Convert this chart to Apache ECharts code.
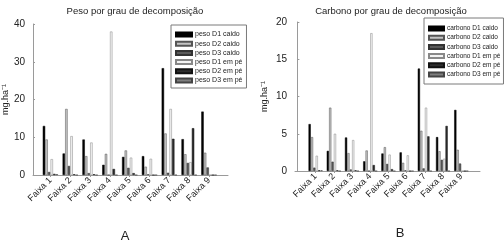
<!DOCTYPE html>
<html>
<head>
<meta charset="utf-8">
<script src="https://cdn.jsdelivr.net/npm/echarts@6/dist/echarts.min.js"></script>
<style>
  html, body { margin: 0; padding: 0; background: #fff; }
  #main { width: 504px; height: 240px; }
</style>
</head>
<body>
<div id="main"></div>
<script>
var categories = ['Faixa 1', 'Faixa 2', 'Faixa 3', 'Faixa 4', 'Faixa 5', 'Faixa 6', 'Faixa 7', 'Faixa 8', 'Faixa 9'];

// peso (A)
var pesoD1Caido = [13.0, 5.7, 9.4, 2.7, 4.8, 5.0, 28.3, 9.5, 16.8];
var pesoD2Caido = [9.4, 17.5, 5.0, 5.6, 6.5, 2.2, 11.0, 5.5, 5.9];
var pesoD3Caido = [0.8, 2.4, 0.5, 0, 1.9, 0.2, 0.6, 3.2, 2.0];
var pesoD1EmPe = [4.2, 10.3, 8.6, 38.0, 4.6, 4.3, 17.5, 3.4, 0];
var pesoD2EmPe = [0.3, 0.2, 0.2, 1.6, 0.5, 0, 9.6, 12.4, 0];
var pesoD3EmPe = [0.2, 0, 0, 0, 0, 0, 0, 0, 0];

// carbono (B)
var carbD1Caido = [6.3, 2.7, 4.5, 1.3, 2.35, 2.5, 13.75, 4.55, 8.2];
var carbD2Caido = [4.55, 8.5, 2.4, 2.75, 3.2, 1.1, 5.4, 2.65, 2.85];
var carbD3Caido = [0.45, 1.25, 0.2, 0, 0.95, 0.1, 0.35, 1.5, 1.0];
var carbD1EmPe = [2.05, 5.0, 4.15, 18.5, 2.2, 2.1, 8.5, 1.65, 0];
var carbD2EmPe = [0.1, 0.1, 0.1, 0.8, 0.25, 0, 4.65, 6.05, 0];
var carbD3EmPe = [0.1, 0, 0, 0, 0, 0, 0, 0, 0];

var pesoNames = ['peso D1 caido', 'peso D2 caido', 'peso D3 caido', 'peso D1 em pé', 'peso D2 em pé', 'peso D3 em pé'];
var carbNames = ['carbono D1 caido', 'carbono D2 caido', 'carbono D3 caido', 'carbono D1 em pé', 'carbono D2 em pé', 'carbono D3 em pé'];

var fills = ['#000000', '#c4c4c4', '#5a5a5a', '#f2f2f2', '#2e2e2e', '#7e7e7e'];
var borders = ['#000000', '#555555', '#333333', '#888888', '#111111', '#444444'];
var ticksX = [1, 2, 3, 4, 5, 6, 7, 8, 9];
var font = 'Liberation Sans, Arial, sans-serif';

function toPairs(arr) {
    return arr.map(function (v, i) { return [i + 1, v]; });
}

function makeSeries(names, arrays, axisIdx, bw) {
    return arrays.map(function (arr, k) {
        return {
            name: names[k],
            type: 'bar',
            xAxisIndex: axisIdx,
            yAxisIndex: axisIdx,
            barWidth: bw,
            barGap: '8%',
            itemStyle: { color: fills[k], borderColor: borders[k], borderWidth: 0.5 },
            data: toPairs(arr)
        };
    });
}

function xAxisCfg(grid, min, max) {
    return {
        type: 'value', gridIndex: grid, min: min, max: max,
        splitLine: { show: false },
        axisLine: { show: true, lineStyle: { color: '#9a9a9a', width: 1 } },
        axisTick: { show: true, length: 2, customValues: ticksX, lineStyle: { color: '#9a9a9a' } },
        axisLabel: {
            customValues: ticksX, rotate: 45, margin: 4, fontSize: 9, color: '#222', fontFamily: font,
            formatter: function (v) { return categories[Math.round(v) - 1] || ''; }
        }
    };
}

function yAxisCfg(grid, max, interval, gap) {
    return {
        type: 'value', gridIndex: grid, min: 0, max: max, interval: interval,
        name: 'mg.ha⁻¹', nameLocation: 'middle', nameRotate: 90, nameGap: gap,
        nameTextStyle: { fontSize: 9, color: '#222', fontFamily: font },
        splitLine: { show: false },
        axisLine: { show: true, lineStyle: { color: '#9a9a9a', width: 1 } },
        axisTick: { show: true, length: 2, inside: true, lineStyle: { color: '#9a9a9a' } },
        axisLabel: { fontSize: 10, color: '#222', margin: 8, fontFamily: font }
    };
}

function legendCfg(names, left, top, iw, fs, pad) {
    return {
        data: names, orient: 'vertical', left: left, top: top,
        icon: 'rect', itemWidth: iw, itemHeight: 4, itemGap: 2.2,
        padding: pad,
        borderColor: '#7a7a7a', borderWidth: 1, backgroundColor: '#fff',
        textStyle: { fontSize: fs, lineHeight: fs, color: '#222', fontFamily: font, padding: [0, 0, 0, -2] }
    };
}

var myChart = echarts.init(document.getElementById('main'));
var option = {
    backgroundColor: '#ffffff',
    animation: false,
    title: [
        { text: 'Peso por grau de decomposição', left: 130, top: 1, textAlign: 'center',
          textStyle: { fontSize: 9.5, fontWeight: 'normal', color: '#222', fontFamily: font } },
        { text: 'Carbono por grau de decomposição', left: 386, top: 1, textAlign: 'center',
          textStyle: { fontSize: 9.5, fontWeight: 'normal', color: '#222', fontFamily: font } },
        { text: 'A', left: 120, top: 225, textAlign: 'center',
          textStyle: { fontSize: 13, fontWeight: 'normal', color: '#222', fontFamily: font } },
        { text: 'B', left: 395, top: 222, textAlign: 'center',
          textStyle: { fontSize: 13, fontWeight: 'normal', color: '#222', fontFamily: font } }
    ],
    legend: [
        legendCfg(pesoNames, 171, 25, 16, 7, [6, 4, 4, 4]),
        legendCfg(carbNames, 424, 18, 15, 6.5, [7, 3, 6, 4])
    ],
    grid: [
        { left: 33, top: 24, width: 195, height: 151 },
        { left: 295, top: 22, width: 185, height: 149 }
    ],
    xAxis: [
        xAxisCfg(0, 0.12, 9.96),
        xAxisCfg(1, -0.13, 10.03)
    ],
    yAxis: [
        yAxisCfg(0, 40, 10, 20),
        yAxisCfg(1, 20, 5, 26)
    ],
    series: makeSeries(pesoNames, [pesoD1Caido, pesoD2Caido, pesoD3Caido, pesoD1EmPe, pesoD2EmPe, pesoD3EmPe], 0, 2.4)
        .concat(makeSeries(carbNames, [carbD1Caido, carbD2Caido, carbD3Caido, carbD1EmPe, carbD2EmPe, carbD3EmPe], 1, 2.2))
};
myChart.setOption(option);
</script>
</body>
</html>
